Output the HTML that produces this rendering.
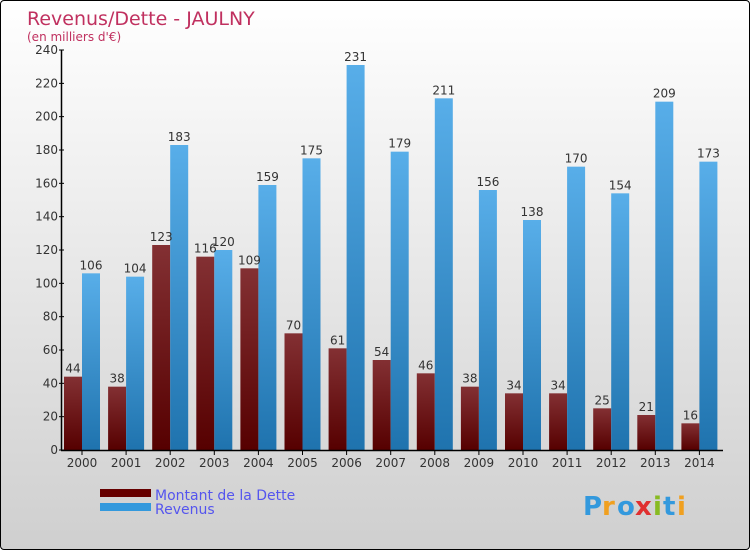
<!DOCTYPE html>
<html><head><meta charset="utf-8"><style>
body{margin:0}
#c{width:748px;height:548px;border:1px solid #000;border-radius:4px;background:linear-gradient(#fff,#cfcfcf);position:relative;overflow:hidden;font-family:"DejaVu Sans","Liberation Sans",sans-serif}
</style></head><body>
<div id="c">
<svg width="748" height="548" xmlns="http://www.w3.org/2000/svg" id="svg">
<defs>
<linearGradient id="gd" x1="0" y1="0" x2="0" y2="1"><stop offset="0" stop-color="#833033"/><stop offset="1" stop-color="#560000"/></linearGradient>
<linearGradient id="gr" x1="0" y1="0" x2="0" y2="1"><stop offset="0" stop-color="#58aee9"/><stop offset="1" stop-color="#1f73ae"/></linearGradient>
</defs>
<text x="26" y="24" font-size="19" fill="#c0305f">Revenus/Dette - JAULNY</text>
<text x="26" y="40" font-size="12" fill="#c0305f">(en milliers d'€)</text>
<g id="bars"></g>
<g id="axes"></g>
<rect x="99" y="488" width="51" height="8" fill="#660000"/>
<rect x="99" y="502" width="51" height="8" fill="#3399dd"/>
<text x="154" y="499" font-size="14" fill="#5555ee">Montant de la Dette</text>
<text x="154" y="513" font-size="14" fill="#5555ee">Revenus</text>
<g font-size="26" font-weight="bold">
<text x="582" y="514" fill="#3399dd">P</text><text x="601" y="514" fill="#f0a020">r</text><text x="616" y="514" fill="#3399dd">o</text><text x="634" y="514" fill="#e03030">x</text><text x="652" y="514" fill="#88bb22">i</text><text x="662" y="514" fill="#3399dd">t</text><text x="676" y="514" fill="#f0a020">i</text>
</g>
</svg>
</div>
<script>
const years=["2000","2001","2002","2003","2004","2005","2006","2007","2008","2009","2010","2011","2012","2013","2014"];
const dette=[44,38,123,116,109,70,61,54,46,38,34,34,25,21,16];
const revenus=[106,104,183,120,159,175,231,179,211,156,138,170,154,209,173];
const yTicks=[0,20,40,60,80,100,120,140,160,180,200,220,240];
const NS="http://www.w3.org/2000/svg";
const y=v=>449-v*(400/240);
const xc=i=>81+i*44.1;
function mk(t,a,p){const e=document.createElementNS(NS,t);for(const k in a)e.setAttribute(k,a[k]);p.appendChild(e);return e;}
const bars=document.getElementById('bars'),axes=document.getElementById('axes');
years.forEach((yr,i)=>{
 const d=mk('rect',{x:xc(i)-18,y:y(dette[i]),width:18,height:y(0)-y(dette[i]),fill:'url(#gd)'},bars);
 
 
 const r=mk('rect',{x:xc(i),y:y(revenus[i]),width:18,height:y(0)-y(revenus[i]),fill:'url(#gr)'},bars);
 
 
 const t1=mk('text',{x:xc(i)-9,y:y(dette[i])-4,'font-size':12,fill:'#333','text-anchor':'middle'},bars);t1.textContent=dette[i];
 
 
 const t2=mk('text',{x:xc(i)+9,y:y(revenus[i])-4,'font-size':12,fill:'#333','text-anchor':'middle'},bars);t2.textContent=revenus[i];
 
 
 const tk=mk('line',{x1:xc(i),x2:xc(i),y1:449,y2:454,stroke:'#000'},axes);
 
 
 const tl=mk('text',{x:xc(i),y:466,'font-size':12,fill:'#333','text-anchor':'middle'},axes);tl.textContent=yr;
 
 
});
yTicks.forEach(v=>{
 const l=mk('line',{x1:58,x2:63,y1:y(v),y2:y(v),stroke:'#000'},axes);
 
 
 const t=mk('text',{x:57,y:y(v)+4,'font-size':12,fill:'#333','text-anchor':'end'},axes);t.textContent=v;
 
 
});
const ya=mk('line',{x1:60.5,x2:60.5,y1:y(240),y2:449,stroke:'#000','stroke-width':1.5},axes);


const xa=mk('line',{x1:60,x2:722,y1:449.5,y2:449.5,stroke:'#000','stroke-width':1.5},axes);


</script>
</body></html>
